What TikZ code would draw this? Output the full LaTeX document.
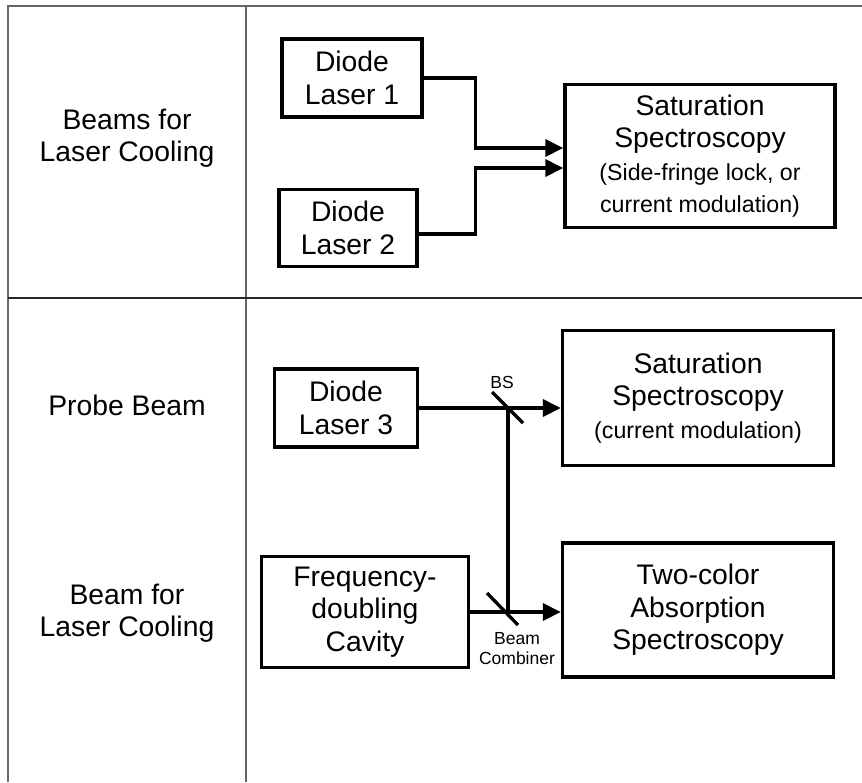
\documentclass[tikz,border=0pt]{standalone}
\usepackage{fontspec}
\setmainfont{Liberation Sans}
\usetikzlibrary{arrows.meta,positioning}

\newcommand{\bigtxt}{\fontsize{28.3}{32.5}\selectfont}
\newcommand{\subtxt}{\fontsize{23.2}{32}\selectfont}
\newcommand{\tagtxt}{\fontsize{17.5}{20}\selectfont}

\begin{document}
\begin{tikzpicture}[x=1pt, y=-1pt,
  box/.style={draw, line width=3.3pt, font=\bigtxt, align=center, inner sep=0pt},
  lbl/.style={font=\bigtxt, align=center},
  tag/.style={font=\tagtxt, align=center, inner sep=0pt},
  beam/.style={line width=3.3pt},
  ar/.style={line width=3.3pt, -{Triangle[length=18pt,width=17pt]}},
  rule/.style={draw=black!60, line width=1.7pt}
]
\useasboundingbox (0,0) rectangle (862,782);

% table lines
\draw[rule] (8,782) -- (8,6) -- (862,6);
\draw[rule] (246,6) -- (246,782);
\draw[line width=2.4pt, draw=black!85] (8,298) -- (862,298);

% row labels
\node[lbl] (cool1) at (127,138) {Beams for\\Laser Cooling};
\node[lbl] (probe) at (127,405) {Probe Beam};
\node[lbl] (cool2) at (127,613) {Beam for\\Laser Cooling};

% upper part
\node[box, minimum width=140pt, minimum height=78pt] (dl1) at (352,78) {Diode\\Laser 1};
\node[box, minimum width=138pt, minimum height=77pt] (dl2) at (348,228) {Diode\\Laser 2};
\node[box, minimum width=270pt, minimum height=143pt] (ss1) at (700,156)
  {Saturation\\Spectroscopy\\\subtxt (Side-fringe lock, or\\\subtxt current modulation)};

\draw[ar] (dl1.east) -- ++(52,0) |- ([yshift=8pt]ss1.west);
\draw[ar] ([yshift=-6pt]dl2.east) -- ++(57,0) |- ([yshift=-12pt]ss1.west);

% lower part
\node[box, minimum width=143pt, minimum height=78pt] (dl3) at (346,408) {Diode\\Laser 3};
\node[box, minimum width=271pt, minimum height=135pt] (ss2) at (698,398)
  {Saturation\\Spectroscopy\\\subtxt (current modulation)};
\node[box, minimum width=207pt, minimum height=111pt] (fdc) at (365,612) {Frequency-\\doubling\\Cavity};
\node[box, minimum width=271pt, minimum height=134pt] (tca) at (698,610) {Two-color\\Absorption\\Spectroscopy};

\coordinate (bs) at (508,408);
\coordinate (bc) at (508,612);

\draw[ar] (dl3.east) -- (dl3.east -| ss2.west);
\draw[ar] (fdc.east) -- (fdc.east -| tca.west);
\draw[beam] (bs) -- (bc);

% mirrors
\draw[beam] ([shift={(-16,-16)}]bs) -- ([shift={(15,15)}]bs);
\draw[beam] ([shift={(-21,-19)}]bc) -- ([shift={(10,13)}]bc);

\node[tag] (bslbl) at (502,382) {BS};
\node[tag] (bclbl) at (517,649) {Beam\\Combiner};
\end{tikzpicture}
\end{document}
